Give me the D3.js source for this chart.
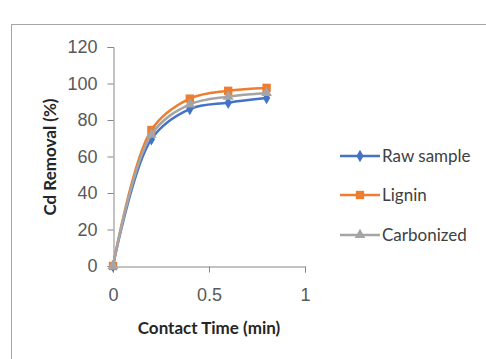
<!DOCTYPE html>
<html>
<head>
<meta charset="utf-8">
<script src="https://cdn.jsdelivr.net/npm/d3@7"></script>
<style>
  body { margin: 0; background: #fff; }
  svg { display: block; font-family: Lato, "Open Sans", sans-serif; }
</style>
</head>
<body>
<div id="chart"></div>
<script>
// contact time (min)
let times = [0, 0.2, 0.4, 0.6, 0.8];
let rawSample = [0, 69.5, 86, 89.5, 92];
let lignin = [0, 74.5, 91.7, 96, 97.6];
let carbonized = [0, 72, 88.5, 92.8, 94.8];
let seriesNames = ['Raw sample', 'Lignin', 'Carbonized'];
let xTicks = [0, 0.5, 1];
let yTicks = [0, 20, 40, 60, 80, 100, 120];

let width = 486,
	height = 359;

let colors = ['#4472c4', '#ed7d31', '#a5a5a5'];
let shapes = [d3.symbolDiamond, d3.symbolSquare, d3.symbolTriangle];
let sizes = [45, 70, 50];

let svg = d3.select('#chart').append('svg').attr('width', width).attr('height', height);

// chart frame (runs off the right and bottom edge)
svg.append('rect')
	.attr('x', 11.5).attr('y', 24.5)
	.attr('width', 500).attr('height', 400)
	.attr('fill', 'none')
	.attr('stroke', '#a6a6a6');

let x = d3.scaleLinear().domain([0, 1]).range([113, 305]);
let y = d3.scaleLinear().domain([0, 120]).range([266, 47]);

let gy = svg.append('g').attr('transform', 'translate(113.5,0)')
	.call(d3.axisLeft(y).tickValues(yTicks).tickSize(6).tickPadding(10));
let gx = svg.append('g').attr('transform', 'translate(0,266.5)')
	.call(d3.axisBottom(x).tickValues(xTicks).tickSize(6).tickPadding(16).tickFormat(d3.format('')));

[gx, gy].forEach((g) => {
	g.select('.domain').attr('stroke', '#868686');
	g.selectAll('.tick line').attr('stroke', '#868686');
	g.selectAll('.tick text').attr('fill', '#595959').style('font-size', '18px');
});

// axis titles
svg.append('text')
	.attr('x', 209).attr('y', 334)
	.attr('text-anchor', 'middle')
	.style('font-size', '17px').style('font-weight', 'bold')
	.attr('fill', '#262626')
	.text('Contact Time (min)');

svg.append('text')
	.attr('transform', 'translate(56,157) rotate(-90)')
	.attr('text-anchor', 'middle')
	.style('font-size', '17px').style('font-weight', 'bold')
	.attr('fill', '#262626')
	.text('Cd Removal (%)');

let allSeries = [rawSample, lignin, carbonized];

let line = d3.line()
	.x((d, i) => x(times[i]))
	.y((d) => y(d))
	.curve(d3.curveCatmullRom.alpha(0.5));

allSeries.forEach((values, s) => {
	svg.append('path')
		.datum(values)
		.attr('d', line)
		.attr('fill', 'none')
		.attr('stroke', colors[s])
		.attr('stroke-width', 2.5);

	svg.selectAll('.m' + s)
		.data(values)
		.enter()
		.append('path')
		.attr('class', 'm' + s)
		.attr('d', d3.symbol().type(shapes[s]).size(sizes[s]))
		.attr('transform', (d, i) => 'translate(' + x(times[i]) + ',' + y(d) + ')')
		.attr('fill', colors[s]);
});

// legend
let legendY = [156, 195, 235];
seriesNames.forEach((name, s) => {
	let g = svg.append('g').attr('transform', 'translate(340,' + legendY[s] + ')');
	g.append('line')
		.attr('x1', 0).attr('x2', 40)
		.attr('stroke', colors[s])
		.attr('stroke-width', 2.5);
	g.append('path')
		.attr('d', d3.symbol().type(shapes[s]).size(sizes[s]))
		.attr('transform', 'translate(20,0)')
		.attr('fill', colors[s]);
	g.append('text')
		.attr('x', 42).attr('dy', '0.35em')
		.style('font-size', '17px')
		.attr('fill', '#404040')
		.text(name);
});
</script>
</body>
</html>
